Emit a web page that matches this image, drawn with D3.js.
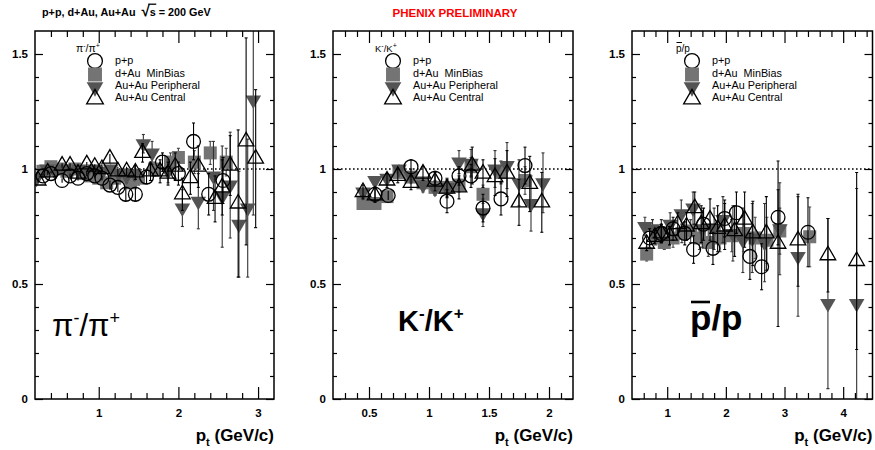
<!DOCTYPE html>
<html><head><meta charset="utf-8">
<script src="https://cdn.jsdelivr.net/npm/d3@7"></script>
<style>body{margin:0;background:#fff} text{font-family:"Liberation Sans",Arial,sans-serif}</style>
</head><body><svg id="c" width="875" height="450"></svg>
<script>
// ---------- data: [pt, ratio, error] ----------
const pion_pp  = [[0.3,0.97,0.01],[0.4,0.98,0.01],[0.54,0.95,0.01],[0.64,0.97,0.01],[0.74,0.96,0.01],[0.85,0.98,0.01],[0.95,0.97,0.01],[1.04,0.96,0.01],[1.14,0.93,0.02],[1.24,0.92,0.02],[1.34,0.89,0.03],[1.46,0.89,0.03],[1.6,0.965,0.03],[1.8,1.03,0.04],[2.0,0.98,0.05],[2.19,1.12,0.08],[2.38,0.89,0.09],[2.56,0.95,0.1]];
const pion_dAu = [[0.3,0.99,0.01],[0.4,1.01,0.01],[0.5,1.0,0.01],[0.6,0.99,0.01],[0.7,1.0,0.01],[0.8,0.98,0.01],[0.9,0.97,0.01],[1.0,0.96,0.01],[1.1,0.94,0.02],[1.2,0.96,0.02],[1.3,0.97,0.02],[1.4,0.94,0.02],[1.5,0.96,0.03],[1.7,1.0,0.03],[1.9,1.03,0.04],[2.0,1.05,0.04],[2.2,1.03,0.05],[2.4,1.07,0.05],[2.6,1.03,0.06]];
const pion_per = [[0.22,0.96,0.02],[0.35,1.0,0.01],[0.45,0.99,0.01],[0.55,1.0,0.01],[0.65,0.99,0.01],[0.75,1.0,0.01],[0.85,0.99,0.01],[0.95,1.0,0.02],[1.05,0.99,0.02],[1.15,1.0,0.02],[1.25,0.98,0.02],[1.35,0.97,0.03],[1.45,0.98,0.03],[1.56,1.11,0.04],[1.67,1.07,0.05],[1.87,0.99,0.05],[2.05,0.83,0.08],[2.25,0.86,0.12],[2.44,0.97,0.15],[2.55,0.88,0.22],[2.65,0.93,0.23],[2.76,0.76,0.23],[2.87,0.83,0.3],[2.94,1.30,0.5]];
const pion_cen = [[0.24,0.95,0.01],[0.36,0.985,0.01],[0.54,1.015,0.01],[0.64,1.015,0.01],[0.74,0.98,0.01],[0.85,1.02,0.01],[0.95,1.01,0.01],[1.04,1.0,0.02],[1.14,1.045,0.02],[1.24,0.99,0.02],[1.35,0.99,0.02],[1.46,0.985,0.03],[1.55,1.07,0.04],[1.65,0.99,0.04],[1.77,0.99,0.05],[1.87,0.98,0.05],[1.96,1.01,0.06],[2.05,0.89,0.07],[2.15,0.96,0.07],[2.25,1.01,0.09],[2.46,0.87,0.1],[2.55,0.92,0.12],[2.65,1.015,0.13],[2.75,0.85,0.32],[2.85,1.12,0.45],[2.97,1.045,0.3]];

const kaon_pp  = [[0.55,0.89,0.03],[0.66,0.885,0.02],[0.85,1.01,0.03],[1.05,0.96,0.03],[1.15,0.86,0.05],[1.25,0.97,0.04],[1.35,0.97,0.05],[1.45,0.83,0.06],[1.6,0.87,0.07],[1.8,1.015,0.08]];
const kaon_dAu = [[0.45,0.85,0.02],[0.55,0.85,0.02],[0.65,0.88,0.02],[0.75,0.985,0.02],[0.85,0.965,0.02],[0.95,0.94,0.02],[1.05,0.92,0.03],[1.15,0.92,0.03],[1.25,0.93,0.03],[1.35,1.01,0.04],[1.45,0.89,0.04],[1.6,0.985,0.05],[1.8,0.95,0.06]];
const kaon_per = [[0.45,0.9,0.02],[0.55,0.95,0.02],[0.65,0.96,0.02],[0.75,1.0,0.02],[0.85,0.97,0.03],[0.95,0.93,0.03],[1.05,0.915,0.03],[1.15,0.92,0.04],[1.25,1.03,0.05],[1.35,1.025,0.06],[1.45,0.81,0.06],[1.55,1.0,0.08],[1.65,1.015,0.1],[1.75,0.94,0.1],[1.85,0.85,0.12],[1.95,0.94,0.13]];
const kaon_cen = [[0.45,0.9,0.03],[0.55,0.885,0.03],[0.65,0.95,0.03],[0.74,0.97,0.03],[0.85,0.94,0.03],[0.95,0.98,0.03],[1.05,0.945,0.04],[1.15,0.915,0.04],[1.25,0.92,0.05],[1.36,1.015,0.08],[1.45,0.98,0.06],[1.55,0.965,0.08],[1.65,0.98,0.1],[1.75,0.855,0.1],[1.84,0.935,0.12],[1.94,0.855,0.13]];

const pbar_pp  = [[0.7,0.7,0.04],[0.9,0.72,0.04],[1.1,0.74,0.05],[1.3,0.72,0.05],[1.45,0.65,0.06],[1.62,0.76,0.07],[1.78,0.655,0.07],[1.98,0.785,0.08],[2.18,0.81,0.09],[2.41,0.62,0.1],[2.61,0.575,0.1],[2.89,0.79,0.12],[3.4,0.725,0.15]];
const pbar_dAu = [[0.65,0.63,0.03],[0.8,0.7,0.03],[0.95,0.68,0.03],[1.1,0.7,0.04],[1.25,0.72,0.04],[1.4,0.73,0.05],[1.55,0.7,0.05],[1.7,0.68,0.06],[1.9,0.7,0.06],[2.1,0.71,0.07],[2.3,0.72,0.08],[2.5,0.7,0.09],[2.7,0.69,0.1],[2.92,0.73,0.1],[3.43,0.705,0.13]];
const pbar_per = [[0.62,0.75,0.04],[0.75,0.74,0.04],[0.9,0.73,0.05],[1.05,0.76,0.05],[1.24,0.805,0.06],[1.44,0.83,0.07],[1.6,0.74,0.08],[1.8,0.74,0.09],[1.95,0.78,0.1],[2.12,0.72,0.12],[2.29,0.69,0.14],[2.45,0.7,0.15],[2.66,0.68,0.17],[2.92,0.74,0.2],[3.23,0.62,0.26],[3.74,0.415,0.37],[4.23,0.415,0.5]];
const pbar_cen = [[0.65,0.675,0.03],[0.79,0.705,0.03],[0.9,0.72,0.04],[1.04,0.71,0.04],[1.18,0.76,0.05],[1.33,0.75,0.06],[1.47,0.83,0.07],[1.58,0.76,0.08],[1.73,0.78,0.09],[1.86,0.74,0.1],[1.98,0.75,0.1],[2.15,0.73,0.11],[2.32,0.78,0.12],[2.46,0.72,0.14],[2.69,0.72,0.16],[2.89,0.675,0.36],[3.23,0.69,0.2],[3.74,0.625,0.16],[4.23,0.60,0.385]];

const seriesNames = ["p+p","d+Au\u00a0 MinBias","Au+Au Peripheral","Au+Au Central"];
const yTicks = [0,0.5,1,1.5];
const pionTicks = [1,2,3];
const kaonTicks = [0.5,1,1.5,2];
const pbarTicks = [1,2,3,4];

// ---------- layout ----------
const svg = d3.select("#c");
const TOP = 31, BOT = 399;
const y = d3.scaleLinear().domain([0,1.6]).range([BOT,TOP]);

const styles = {
  pp:  {sym:d3.symbolCircle,  size:150, fill:"none", stroke:"#000", rot:0, err:"#000"},
  dAu: {sym:d3.symbolSquare,  size:169, fill:"#747474", stroke:"none", rot:0, err:"#444"},
  per: {sym:d3.symbolTriangle,size:105, fill:"#545454", stroke:"none", rot:180, err:"#333"},
  cen: {sym:d3.symbolTriangle,size:105, fill:"none", stroke:"#000", rot:0, err:"#000"}
};
const order = ["dAu","per","pp","cen"];
const legOrder = ["pp","dAu","per","cen"];

const panels = [
  {left:35,  right:274,   xd:[0.2,3.2], ticks:pionTicks, minor:0.2, data:{pp:pion_pp,dAu:pion_dAu,per:pion_per,cen:pion_cen}, kind:"pi"},
  {left:333, right:573,   xd:[0.2,2.2], ticks:kaonTicks, minor:0.1, data:{pp:kaon_pp,dAu:kaon_dAu,per:kaon_per,cen:kaon_cen}, kind:"K"},
  {left:632, right:872.5, xd:[0.4,4.5], ticks:pbarTicks, minor:0.2, data:{pp:pbar_pp,dAu:pbar_dAu,per:pbar_per,cen:pbar_cen}, kind:"p"}
];

function styleAxis(g){
  g.select(".domain").remove();
  g.selectAll(".tick line").attr("stroke","#000").attr("stroke-width",1.2);
  g.selectAll(".tick text").attr("font-family","Liberation Sans, Arial, sans-serif")
    .attr("font-weight","bold").attr("font-size",11.5).attr("fill","#000");
}

panels.forEach((p,i)=>{
  const x = d3.scaleLinear().domain(p.xd).range([p.left,p.right]);
  const cid = "clip"+i;
  svg.append("clipPath").attr("id",cid).append("rect")
    .attr("x",p.left).attr("y",TOP).attr("width",p.right-p.left).attr("height",BOT-TOP);
  const g = svg.append("g").attr("clip-path",`url(#${cid})`);

  g.append("line").attr("x1",p.left).attr("x2",p.right).attr("y1",y(1)).attr("y2",y(1))
    .attr("stroke","#000").attr("stroke-width",1.6).attr("stroke-dasharray","1.6,2.4");

  order.forEach(k=>{
    const s = styles[k], d = p.data[k];
    const sg = g.append("g");
    sg.selectAll("line.e").data(d).join("line").attr("class","e")
      .attr("x1",v=>x(v[0])).attr("x2",v=>x(v[0]))
      .attr("y1",v=>y(v[1]-v[2])).attr("y2",v=>y(v[1]+v[2]))
      .attr("stroke",s.err).attr("stroke-width",1.1);
    [-1,1].forEach(sg_=>{
      sg.selectAll("line.c"+(sg_+1)).data(d.filter(v=>v[2]>0.025)).join("line").attr("class","c"+(sg_+1))
        .attr("x1",v=>x(v[0])-1.5).attr("x2",v=>x(v[0])+1.5)
        .attr("y1",v=>y(v[1]+sg_*v[2])).attr("y2",v=>y(v[1]+sg_*v[2]))
        .attr("stroke",s.err).attr("stroke-width",1.1);
    });
    sg.selectAll("path").data(d).join("path")
      .attr("d",d3.symbol().type(s.sym).size(s.size))
      .attr("transform",v=>`translate(${x(v[0])},${y(v[1])}) rotate(${s.rot})`)
      .attr("fill",s.fill).attr("stroke",s.stroke).attr("stroke-width",1.3);
  });

  const minorX = d3.range(p.xd[0], p.xd[1]+1e-9, p.minor).map(v=>+v.toFixed(3))
    .filter(v=>v>p.xd[0]+1e-6 && v<p.xd[1]-1e-6 && !p.ticks.some(t=>Math.abs(t-v)<1e-6));
  const minorY = d3.range(0.1,1.6,0.1).map(v=>+v.toFixed(3)).filter(v=>!yTicks.some(t=>Math.abs(t-v)<1e-6));

  svg.append("g").attr("transform",`translate(0,${BOT})`)
    .call(d3.axisBottom(x).tickValues(p.ticks).tickSize(-12).tickPadding(10).tickFormat(d=>String(d))).call(styleAxis);
  svg.append("g").attr("transform",`translate(0,${BOT})`)
    .call(d3.axisBottom(x).tickValues(minorX).tickSize(-6).tickFormat("")).call(styleAxis);
  svg.append("g").attr("transform",`translate(0,${TOP})`)
    .call(d3.axisTop(x).tickValues(p.ticks).tickSize(-12).tickFormat("")).call(styleAxis);
  svg.append("g").attr("transform",`translate(0,${TOP})`)
    .call(d3.axisTop(x).tickValues(minorX).tickSize(-6).tickFormat("")).call(styleAxis);
  svg.append("g").attr("transform",`translate(${p.left},0)`)
    .call(d3.axisLeft(y).tickValues(yTicks).tickSize(-8).tickPadding(7).tickFormat(d=>String(d))).call(styleAxis);
  svg.append("g").attr("transform",`translate(${p.left},0)`)
    .call(d3.axisLeft(y).tickValues(minorY).tickSize(-4).tickFormat("")).call(styleAxis);
  svg.append("g").attr("transform",`translate(${p.right},0)`)
    .call(d3.axisRight(y).tickValues(yTicks).tickSize(-8).tickFormat("")).call(styleAxis);
  svg.append("g").attr("transform",`translate(${p.right},0)`)
    .call(d3.axisRight(y).tickValues(minorY).tickSize(-4).tickFormat("")).call(styleAxis);

  svg.append("rect").attr("x",p.left).attr("y",TOP).attr("width",p.right-p.left).attr("height",BOT-TOP)
    .attr("fill","none").attr("stroke","#000").attr("stroke-width",1.5);

  const xt = svg.append("text").attr("x",p.right).attr("y",441).attr("text-anchor","end")
    .attr("font-weight","bold").attr("font-size",17);
  xt.append("tspan").text("p");
  xt.append("tspan").attr("font-size",11).attr("dy",5).text("t");
  xt.append("tspan").attr("dy",-5).text(" (GeV/c)");

  const lx = p.left+60, lyy=[61,74.5,87,99], ty=[64.3,76.6,88.9,101.2];
  legOrder.forEach((k,j)=>{
    const s = styles[k];
    svg.append("path").attr("d",d3.symbol().type(s.sym).size(s.size*1.15))
      .attr("transform",`translate(${lx},${lyy[j]}) rotate(${s.rot})`)
      .attr("fill",s.fill).attr("stroke",s.stroke).attr("stroke-width",1.3);
    svg.append("text").attr("x",p.left+80).attr("y",ty[j]).attr("font-size",10.8).text(seriesNames[j]);
  });

  if(p.kind==="pi"){
    const t = svg.append("text").attr("x",p.left+41).attr("y",52).attr("font-family","Liberation Serif, serif").attr("font-size",10.5);
    t.append("tspan").text("π"); t.append("tspan").attr("font-size",7).attr("dy",-4).text("-");
    t.append("tspan").attr("dy",4).text("/π"); t.append("tspan").attr("font-size",7).attr("dy",-4).text("+");
    const b = svg.append("text").attr("x",52).attr("y",336).attr("font-family","Liberation Serif, serif").attr("font-size",31);
    b.append("tspan").text("π"); b.append("tspan").attr("font-size",18).attr("dy",-12).text("-");
    b.append("tspan").attr("dy",12).text("/π"); b.append("tspan").attr("font-size",18).attr("dy",-12).text("+");
  } else if(p.kind==="K"){
    const t = svg.append("text").attr("x",p.left+42).attr("y",52).attr("font-size",9.5);
    t.append("tspan").text("K"); t.append("tspan").attr("font-size",7).attr("dy",-4).text("-");
    t.append("tspan").attr("dy",4).text("/K"); t.append("tspan").attr("font-size",7).attr("dy",-4).text("+");
    const b = svg.append("text").attr("x",398).attr("y",331).attr("font-weight","bold").attr("font-size",29);
    b.append("tspan").text("K"); b.append("tspan").attr("font-size",17).attr("dy",-12).text("-");
    b.append("tspan").attr("dy",12).text("/K"); b.append("tspan").attr("font-size",17).attr("dy",-12).text("+");
  } else {
    svg.append("text").attr("x",p.left+44).attr("y",52).attr("font-size",10).text("p/p");
    svg.append("line").attr("x1",p.left+44.5).attr("x2",p.left+50).attr("y1",42.5).attr("y2",42.5).attr("stroke","#000").attr("stroke-width",1);
    svg.append("text").attr("x",690).attr("y",330).attr("font-weight","bold").attr("font-size",35).text("p/p");
    svg.append("line").attr("x1",691).attr("x2",710).attr("y1",302).attr("y2",302).attr("stroke","#000").attr("stroke-width",2.6);
  }
});

// header
const h = svg.append("text").attr("x",42).attr("y",16).attr("font-weight","bold").attr("font-size",10.8);
h.append("tspan").text("p+p, d+Au, Au+Au\u00a0 ");
h.append("tspan").attr("font-size",15).text("√");
h.append("tspan").text("s = 200 GeV");
const txt = h.node().textContent;
const si = txt.indexOf("√")+1;
const ext = h.node().getExtentOfChar(si);
const ext0 = h.node().getExtentOfChar(si-1);
svg.append("line").attr("x1",ext0.x+ext0.width-1.5).attr("x2",ext.x+ext.width+0.5).attr("y1",ext0.y+2.2).attr("y2",ext0.y+2.2)
  .attr("stroke","#000").attr("stroke-width",1.3);

svg.append("text").attr("x",455).attr("y",17).attr("text-anchor","middle").attr("font-weight","bold")
  .attr("font-size",11.5).attr("fill","#ff0000").text("PHENIX PRELIMINARY");
</script></body></html>
